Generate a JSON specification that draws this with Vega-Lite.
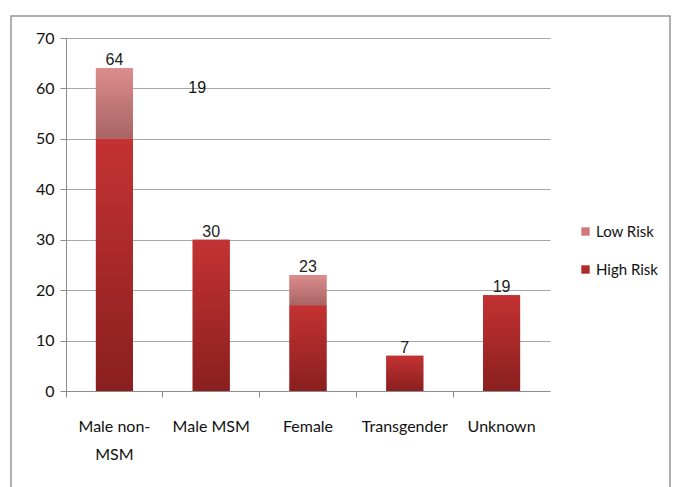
{
  "$schema": "https://vega.github.io/schema/vega-lite/v6.json",
  "autosize": "none",
  "width": 484,
  "height": 353,
  "padding": {"left": 66, "top": 38, "right": 133, "bottom": 96},
  "background": "white",
  "config": {
    "view": {"stroke": null},
    "axis": {"labelFont": "Lato", "labelFontSize": 16, "labelColor": "#111", "domainColor": "#8c8c8c", "tickColor": "#8c8c8c", "gridColor": "#a8a8a8"},
    "legend": {"labelFont": "Lato", "labelFontSize": 15, "labelColor": "#111"}
  },
  "datasets": {
    "bars": [
      {"category": "Male non-MSM", "risk": "High Risk", "value": 50},
      {"category": "Male non-MSM", "risk": "Low Risk", "value": 14},
      {"category": "Male MSM", "risk": "High Risk", "value": 30},
      {"category": "Female", "risk": "High Risk", "value": 17},
      {"category": "Female", "risk": "Low Risk", "value": 6},
      {"category": "Transgender", "risk": "High Risk", "value": 7},
      {"category": "Unknown", "risk": "High Risk", "value": 19}
    ],
    "notes": [
      {"category": "Male MSM", "value": 60, "label": "19"}
    ]
  },
  "layer": [
    {
      "data": {"values": [{}]},
      "mark": {"type": "rect", "fill": null, "stroke": "#959595", "strokeWidth": 1.5, "x": -55, "x2": 604, "y": -22, "y2": 470, "clip": false},
      "encoding": {}
    },
    {
      "data": {"name": "bars"},
      "mark": {"type": "bar", "width": 37},
      "encoding": {
        "x": {
          "field": "category", "type": "nominal",
          "sort": ["Male non-MSM", "Male MSM", "Female", "Transgender", "Unknown"],
          "scale": {"paddingInner": 0, "paddingOuter": 0},
          "axis": {"title": null, "labelAngle": 0, "bandPosition": 0, "tickSize": 6, "labelPadding": 21, "labelBaseline": "top", "labelLineHeight": 28,
                   "labelExpr": "datum.value == 'Male non-MSM' ? ['Male non-', 'MSM'] : datum.value", "labelAlign": "center", "labelOffset": 0}
        },
        "y": {
          "field": "value", "type": "quantitative", "aggregate": "sum",
          "scale": {"domain": [0, 70]},
          "axis": {"title": null, "values": [0, 10, 20, 30, 40, 50, 60, 70], "tickSize": 6, "labelPadding": 6, "grid": true}
        },
        "color": {
          "field": "risk", "type": "nominal",
          "scale": {"domain": ["Low Risk", "High Risk"], "range": ["#cf7a7a", "#b02a2a"]},
          "legend": {"title": null, "orient": "none", "legendX": 512, "legendY": 186, "symbolType": "square", "symbolSize": 70, "rowPadding": 22, "symbolOffset": 0, "labelOffset": 3}
        },
        "order": {"field": "risk", "sort": "ascending"}
      }
    },
    {
      "data": {"name": "bars"},
      "transform": [
        {"stack": "value", "groupby": ["category"], "sort": [{"field": "risk", "order": "ascending"}], "as": ["v0", "v1"]}
      ],
      "mark": {"type": "bar", "width": 37},
      "encoding": {
        "x": {"field": "category", "type": "nominal", "sort": ["Male non-MSM", "Male MSM", "Female", "Transgender", "Unknown"]},
        "y": {"field": "v1", "type": "quantitative"},
        "y2": {"field": "v0"},
        "fill": {
          "condition": {"test": "datum.risk == 'Low Risk'", "value": {"gradient": "linear", "x1": 0, "y1": 0, "x2": 0, "y2": 1, "stops": [{"offset": 0, "color": "#dc8c8c"}, {"offset": 1, "color": "#a86464"}]}},
          "value": {"gradient": "linear", "x1": 0, "y1": 0, "x2": 0, "y2": 1, "stops": [{"offset": 0, "color": "#c43232"}, {"offset": 1, "color": "#8a1f1f"}]}
        }
      }
    },
    {
      "data": {"name": "bars"},
      "mark": {"type": "text", "font": "Liberation Sans", "fontSize": 16, "color": "#222", "baseline": "alphabetic", "dy": -3},
      "encoding": {
        "x": {"field": "category", "type": "nominal", "sort": ["Male non-MSM", "Male MSM", "Female", "Transgender", "Unknown"]},
        "y": {"field": "value", "type": "quantitative", "aggregate": "sum"},
        "text": {"field": "value", "type": "quantitative", "aggregate": "sum"}
      }
    },
    {
      "data": {"name": "notes"},
      "mark": {"type": "text", "font": "Liberation Sans", "fontSize": 16, "color": "#111", "baseline": "middle", "dx": -14},
      "encoding": {
        "x": {"field": "category", "type": "nominal", "sort": ["Male non-MSM", "Male MSM", "Female", "Transgender", "Unknown"]},
        "y": {"field": "value", "type": "quantitative"},
        "text": {"field": "label", "type": "nominal"}
      }
    }
  ]
}
